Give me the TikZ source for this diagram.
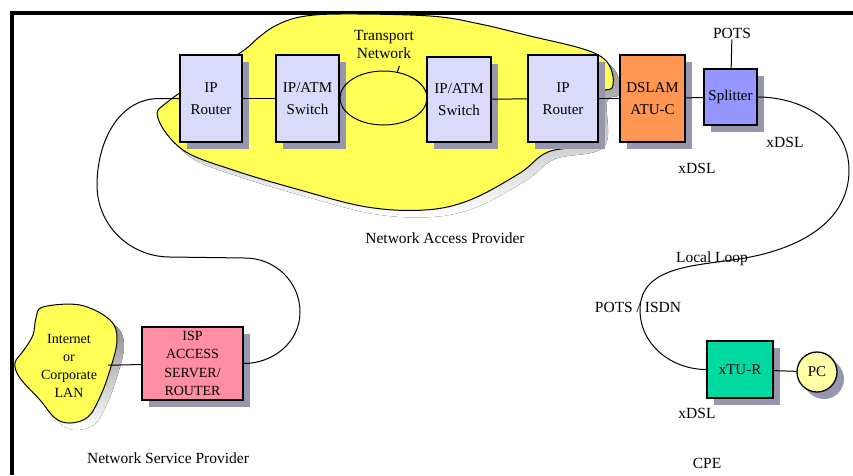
\documentclass[tikz,border=0pt]{standalone}
\usepackage{fontspec}
\setmainfont{Liberation Serif}
\usetikzlibrary{shapes.geometric,shadows}
\definecolor{lav}{RGB}{218,218,250}
\definecolor{shade}{RGB}{150,150,172}
\definecolor{cyel}{RGB}{255,255,85}
\definecolor{dsl}{RGB}{255,150,82}
\definecolor{spl}{RGB}{150,150,255}
\definecolor{isp}{RGB}{255,142,165}
\definecolor{atu}{RGB}{0,218,160}
\definecolor{pcy}{RGB}{255,255,165}

\begin{document}
\begin{tikzpicture}[x=1pt,y=-1pt,
  box/.style={draw,line width=1.3pt,inner sep=0,align=center,fill=lav,
    font=\fontsize{15}{22}\selectfont,
    drop shadow={shadow xshift=7pt,shadow yshift=-7pt,fill=shade,opacity=1}},
  lbl/.style={font=\fontsize{15.5}{18}\selectfont,align=center,inner sep=1pt},
  wire/.style={line width=1pt}]
\useasboundingbox (0,0) rectangle (853,475);
% frame
\draw[line width=3.5pt] (12,475) -- (12,13) -- (853,13);

% clouds
\def\napcloud{(240,53) (258,38) (275,26) (300,17) (340,14) (430,16) (480,24) (530,36)
  (580,48) (603,58) (612,72) (612,88) (600,95) (597,140) (548,152) (520,173) (470,200)
  (425,210) (367,207) (300,190) (233,170) (183,150) (158,118) (170,100)}
\def\lancloud{(43,307) (80,305) (110,320) (117,340) (110,370) (100,397) (88,417) (70,423)
  (55,418) (40,400) (20,378) (15,363) (24,350) (33,335) (36,318)}
\foreach \pts in {\napcloud,\lancloud} {
  \fill[shade,shift={(7,7)},tension=.6] plot[smooth cycle] coordinates {\pts};
  \filldraw[fill=cyel,line width=1pt,tension=.6] plot[smooth cycle] coordinates {\pts};
}

% network access provider
\node[box,minimum width=62pt,minimum height=87pt] (r1) at (211,98.5) {IP\\Router};
\node[box,minimum width=63pt,minimum height=87pt] (sw1) at (307.5,98.5) {IP/ATM\\Switch};
\node[draw,ellipse,line width=1pt,minimum width=87pt,minimum height=54pt] (tnet) at (383.5,98) {};
\node[box,minimum width=64pt,minimum height=85pt] (sw2) at (459,99.5) {IP/ATM\\Switch};
\node[box,minimum width=70pt,minimum height=87pt] (r2) at (563,98.5) {IP\\Router};
\node[box,fill=dsl,minimum width=65pt,minimum height=87pt] (dslam) at (652.5,98.5) {DSLAM\\ATU-C};
\node[box,fill=spl,minimum width=53pt,minimum height=56pt] (split) at (730.5,97) {Splitter};
\node[lbl] (tlbl) at (384,44) {Transport\\Network};
\node[lbl] (pots) at (732,33) {POTS};
\node[lbl] (xdsl1) at (785,142) {xDSL};
\node[lbl] (xdsl2) at (697,168) {xDSL};
\node[lbl] (nap) at (445,238) {Network Access Provider};

% network service provider
\node[lbl,font=\fontsize{14}{18}\selectfont,minimum width=78pt] (lan) at (69,366) {Internet\\or\\Corporate\\LAN};
\node[box,fill=isp,font=\fontsize{14}{18.5}\selectfont,minimum width=101pt,minimum height=73pt] (ispb) at (192.5,363.5) {ISP\\ACCESS\\SERVER/\\ROUTER};
\node[lbl] (nsp) at (168,458) {Network Service Provider};

% CPE
\node[box,fill=atu,minimum width=66pt,minimum height=57pt] (xtur) at (740,369.5) {xTU-R};
\node[box,circle,fill=pcy,minimum size=40pt,drop shadow={shadow xshift=4pt,shadow yshift=-4pt,fill=shade,opacity=1}] (pc) at (817,372) {PC};
\node[lbl] (lloop) at (712,259) {Local Loop};
\node[lbl] (isdn) at (638,307) {POTS / ISDN};
\node[lbl] (xdsl3) at (697,413) {xDSL};
\node[lbl] (cpe) at (707,463) {CPE};

% links
\draw[wire] (tnet.62) -- ++(2,-6);
\draw[wire] (r1) -- (sw1);
\draw[wire] (sw1) -- (tnet);
\draw[wire] (tnet) -- (sw2);
\draw[wire] (sw2) -- (r2);
\draw[wire] (r2) -- (dslam);
\draw[wire] (dslam) -- (split);
\draw[wire] (split) -- (pots);
\draw[wire] (lan) -- (ispb);
\draw[wire] (xtur) -- (pc);
\draw[wire] (r1.west) -- ++(-20,0) to[out=180,in=90] (97,185) to[out=-90,in=180] (170,257)
  -- (245,258) to[out=0,in=90] (300,312) to[out=-90,in=0] (ispb.east);
\draw[wire] (split.east) to[out=0,in=90] (849,170) to[out=-90,in=10] (745,258)
  to[out=190,in=90] (640,310) to[out=-90,in=180] (xtur.west);
\end{tikzpicture}
\end{document}
